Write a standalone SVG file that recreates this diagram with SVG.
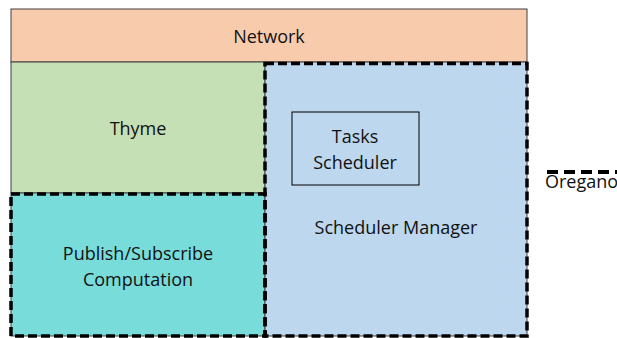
<svg xmlns="http://www.w3.org/2000/svg" width="617" height="338" viewBox="0 0 617 338">
<style>
.box{stroke:#404040;stroke-width:1}
.lbl{font-family:"Open Sans","Liberation Sans",sans-serif;font-size:18px;fill:#111;text-anchor:middle}
.dash{fill:none;stroke:#000;stroke-width:3.5;stroke-dasharray:9 4}
</style>
<rect width="617" height="338" fill="#fff"/>
<g id="network">
<rect class="box" x="11" y="9" width="516" height="53" fill="#F8CBAD"/>
<text class="lbl" x="269" y="43">Network</text>
</g>
<g id="thyme">
<rect class="box" x="11" y="62" width="254" height="131" fill="#C5E0B4"/>
<text class="lbl" x="138" y="135">Thyme</text>
</g>
<g id="pubsub">
<rect class="box" x="11" y="193" width="254" height="143" fill="#78DCDB"/>
<text class="lbl" x="138" y="260">Publish/Subscribe</text>
<text class="lbl" x="138" y="286">Computation</text>
</g>
<g id="scheduler-manager">
<rect class="box" x="265" y="62" width="262" height="274" fill="#BDD7EE"/>
<text class="lbl" x="396" y="234">Scheduler Manager</text>
</g>
<g id="tasks-scheduler">
<rect x="292" y="112" width="127" height="73" fill="none" stroke="#000" stroke-width="1"/>
<text class="lbl" x="355" y="143">Tasks</text>
<text class="lbl" x="355" y="169">Scheduler</text>
</g>
<g id="outlines">
<rect class="dash" x="265" y="63.5" width="262" height="272.5"/>
<rect class="dash" x="11" y="194" width="254" height="142"/>
</g>
<g id="legend">
<line x1="547" y1="172" x2="617" y2="172" stroke="#000" stroke-width="4" stroke-dasharray="11 6"/>
<text x="545" y="188" style="font-family:'Open Sans','Liberation Sans',sans-serif;font-size:18px;fill:#111">Oregano</text>
</g>
</svg>
